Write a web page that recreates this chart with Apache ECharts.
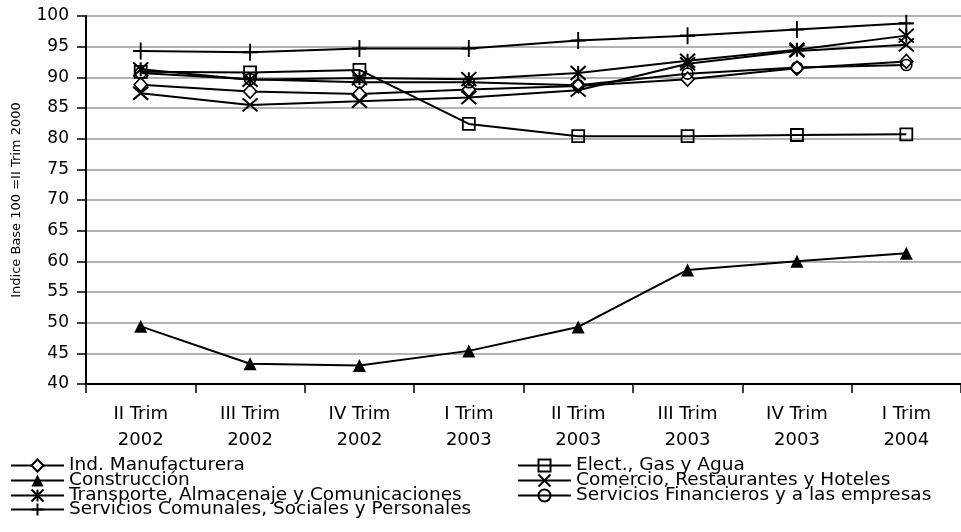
<!DOCTYPE html>
<html>
<head>
<meta charset="utf-8">
<script src="https://cdn.jsdelivr.net/npm/echarts@6/dist/echarts.min.js"></script>
<style>
html,body{margin:0;padding:0;background:#fff;}
#chart{width:961px;height:532px;}
</style>
</head>
<body>
<div id="chart"></div>
<script>
var categories = ['II Trim\n2002','III Trim\n2002','IV Trim\n2002','I Trim\n2003','II Trim\n2003','III Trim\n2003','IV Trim\n2003','I Trim\n2004'];
var yTicks = [40,45,50,55,60,65,70,75,80,85,90,95,100];

var indManufacturera = [88.8, 87.7, 87.3, 88.0, 88.6, 89.7, 91.5, 92.6];
var electGasAgua     = [90.9, 90.8, 91.2, 82.4, 80.4, 80.4, 80.6, 80.7];
var construccion     = [49.4, 43.3, 43.0, 45.4, 49.3, 58.6, 60.0, 61.3];
var comercio         = [87.4, 85.5, 86.1, 86.7, 87.9, 92.2, 94.3, 95.3];
var transporte       = [91.3, 89.6, 89.9, 89.7, 90.7, 92.7, 94.5, 96.8];
var serviciosFin     = [90.7, 89.7, 89.2, 89.2, 88.7, 90.6, 91.6, 92.0];
var serviciosCom     = [94.3, 94.1, 94.7, 94.7, 96.0, 96.8, 97.8, 98.8];

var seriesNames = ['Ind. Manufacturera','Elect., Gas y Agua','Construcción','Comercio, Restaurantes y Hoteles','Transporte, Almacenaje y Comunicaciones','Servicios Financieros y a las empresas','Servicios Comunales, Sociales y Personales'];

var FONT = 'DejaVu Sans';
var chart = echarts.init(document.getElementById('chart'));

function mk(name, data, symbol, size, fill, bw) {
  return {
    name: name, type: 'line', data: data,
    symbol: symbol, symbolSize: size,
    showAllSymbol: true,
    animation: false,
    lineStyle: {color: '#000', width: 2},
    itemStyle: {color: fill, borderColor: '#000', borderWidth: bw},
    emphasis: {disabled: true},
    z: 3
  };
}

var starPath = 'path://M0,0L10,10M10,0L0,10M5,0L5,10';
var xPath = 'path://M0,0L10,10M10,0L0,10';
var plusPath = 'path://M5,0L5,10M0,5L10,5';

var series = [
  mk(seriesNames[0], indManufacturera, 'diamond', [13,14], '#fff', 1.6),
  mk(seriesNames[1], electGasAgua, 'rect', [12,12], 'none', 1.8),
  mk(seriesNames[2], construccion, 'triangle', [13,13], '#000', 0),
  mk(seriesNames[3], comercio, xPath, [15,13], 'none', 2),
  mk(seriesNames[4], transporte, starPath, [15,14], 'none', 2),
  mk(seriesNames[5], serviciosFin, 'circle', [11,11], 'none', 1.6),
  mk(seriesNames[6], serviciosCom, plusPath, [15,17], 'none', 2)
];

var legendFont = {fontFamily: FONT, fontSize: 18.5, color: '#000'};
var legendPos = [
  {left: 10, top: 456},
  {left: 517, top: 456},
  {left: 10, top: 471},
  {left: 517, top: 471},
  {left: 10, top: 486},
  {left: 517, top: 486},
  {left: 10, top: 500}
];
var legends = legendPos.map(function(p, i) {
  return {
    data: [seriesNames[i]],
    left: p.left, top: p.top,
    orient: 'horizontal',
    itemWidth: 53, itemHeight: 15, itemGap: 0,
    padding: 0,
    textStyle: Object.assign({padding: [0,0,0,0]}, legendFont),
    selectedMode: false,
    inactiveColor: '#000'
  };
});

chart.setOption({
  backgroundColor: '#fff',
  animation: false,
  grid: {left: 86, top: 16, right: -7, bottom: 148, containLabel: false},
  legend: legends,
  xAxis: {
    type: 'category',
    data: categories,
    boundaryGap: true,
    axisLine: {lineStyle: {color: '#000', width: 2}},
    axisTick: {show: true, length: 9, lineStyle: {color: '#000', width: 1.5}},
    axisLabel: {fontFamily: FONT, fontSize: 18, color: '#000', lineHeight: 26, margin: 17, interval: 0},
    splitLine: {show: false}
  },
  yAxis: {
    type: 'value',
    min: yTicks[0], max: yTicks[yTicks.length-1], interval: 5,
    name: 'Indice Base 100 =II Trim 2000',
    nameLocation: 'middle',
    nameGap: 63,
    nameRotate: 90,
    nameTextStyle: {fontFamily: FONT, fontSize: 13, color: '#000'},
    axisLine: {show: true, lineStyle: {color: '#000', width: 2}},
    axisTick: {show: true, inside: false, length: 9, lineStyle: {color: '#000', width: 1.5}},
    axisLabel: {fontFamily: FONT, fontSize: 17, color: '#000', margin: 17},
    splitLine: {show: true, lineStyle: {color: '#9a9a9a', width: 1.5}}
  },
  series: series
});
</script>
</body>
</html>
